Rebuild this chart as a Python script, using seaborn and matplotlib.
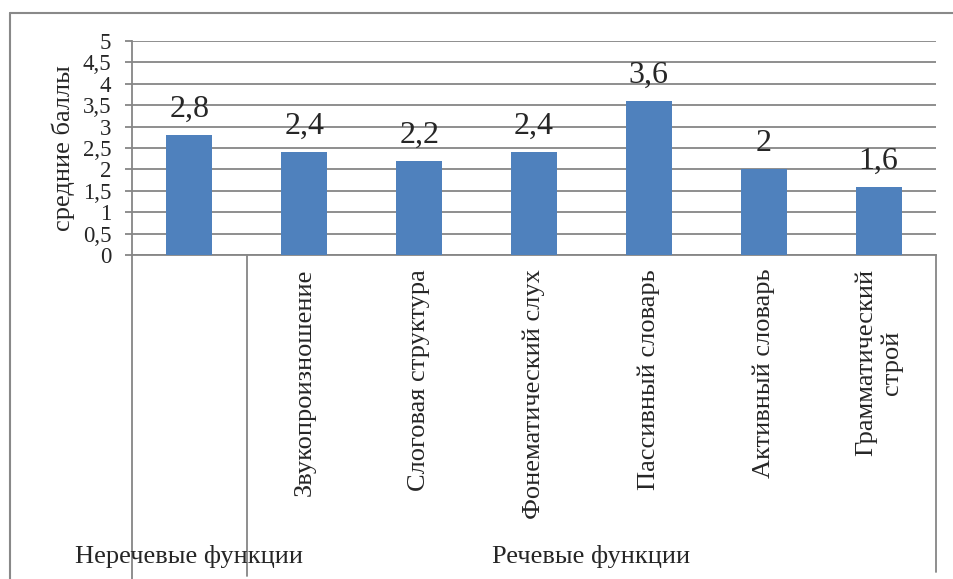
import matplotlib
matplotlib.use("Agg")
import matplotlib.pyplot as plt
import matplotlib.transforms as mtransforms
from matplotlib.lines import Line2D
import seaborn as sns
import pandas as pd

# Scores per function
categories = ["", "Звукопроизношение", "Слоговая структура", "Фонематический слух",
              "Пассивный словарь", "Активный словарь", "Грамматический\nстрой"]
scores = [2.8, 2.4, 2.2, 2.4, 3.6, 2.0, 1.6]
groups = ["Неречевые функции", "Речевые функции"]
group_sizes = [1, 6]
y_ticks = [0, 0.5, 1, 1.5, 2, 2.5, 3, 3.5, 4, 4.5, 5]
y_label = "средние баллы"

sns.set_style("white")
plt.rcParams["font.family"] = ["Liberation Serif", "DejaVu Serif"]

W, H = 954, 579
fig = plt.figure(figsize=(W / 100, H / 100), dpi=100)
ax = fig.add_axes([132 / W, 1 - 255 / H, (936 - 132) / W, (255 - 41) / H])

df = pd.DataFrame({"cat": categories, "score": scores})
sns.barplot(data=df, x="cat", y="score", order=categories, color="#4F81BD",
            saturation=1, width=0.4, linewidth=0, ax=ax, zorder=3)

grid_c = "#868686"
ax.set_xlim(-0.5, len(categories) - 0.5)
ax.set_ylim(0, 5)
ax.set_yticks(y_ticks)
ax.set_yticklabels([f"{t:g}".replace(".", ",") for t in y_ticks], fontsize=16.5)
ax.yaxis.grid(True, color=grid_c, linewidth=1.3, zorder=0)
ax.set_axisbelow(True)
ax.tick_params(axis="y", length=5, width=1.3, color=grid_c, pad=10, left=True)
ax.tick_params(axis="x", length=0, pad=10)
ax.set_xticks(range(len(categories)))
ax.set_xticklabels(categories, rotation=90, fontsize=19, va="top", ha="center",
                   multialignment="center")
ax.set_xlabel("")
ax.set_ylabel(y_label, fontsize=19)
ax.yaxis.set_label_coords((75 - 132) / (936 - 132), 0.5)

for side in ["top", "right"]:
    ax.spines[side].set_visible(False)
for side in ["left", "bottom"]:
    ax.spines[side].set_color(grid_c)
    ax.spines[side].set_linewidth(1.3)

# value labels above bars
for cont in ax.containers:
    ax.bar_label(cont, labels=[f"{v:g}".replace(".", ",") for v in scores],
                 fontsize=23, padding=8)

# table lines beneath the category axis
trans = mtransforms.blended_transform_factory(ax.transData, ax.transAxes)
edges = [-0.5]
for n in group_sizes:
    edges.append(edges[-1] + n)
line_ends = [579, 576, 572]
for e, end in zip(edges, line_ends):
    ax.add_line(Line2D([e, e], [0, -(end - 255) / (255 - 41)], transform=trans,
                       color=grid_c, linewidth=1.3, clip_on=False))
start = -0.5
for g, n in zip(groups, group_sizes):
    ax.text(start + n / 2, -(557 - 255) / (255 - 41), g, transform=trans,
            ha="center", va="center", fontsize=19)
    start += n

# outer chart frame
fig.add_artist(Line2D([10 / W, 10 / W], [0, 1 - 13 / H], color="#898989", linewidth=1.5))
fig.add_artist(Line2D([10 / W, 1], [1 - 13 / H, 1 - 13 / H], color="#898989", linewidth=1.5))

fig.savefig("out.png", dpi=100)
